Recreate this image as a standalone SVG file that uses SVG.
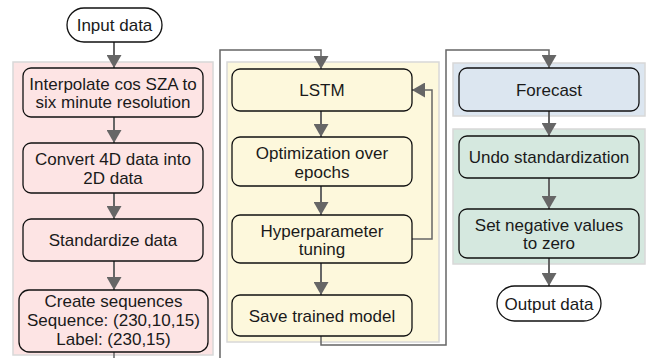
<svg xmlns="http://www.w3.org/2000/svg" width="654" height="358" viewBox="0 0 654 358">
  <defs>
    <marker id="arrow" viewBox="0 0 13 15" refX="13" refY="7.5" markerWidth="13" markerHeight="15" markerUnits="userSpaceOnUse" orient="auto">
      <path d="M0,0 L13,7.5 L0,15 Z" fill="#666"/>
    </marker>
    <style>
      text { font-family: "Liberation Sans", Arial, sans-serif; font-size: 17px; fill: #1a1a1a; text-anchor: middle; }
      .panel { stroke: #d8d8d8; stroke-width: 1.5; }
      .box { stroke: #111; stroke-width: 1.3; }
      .pink { fill: #fde4e4; }
      .yellow { fill: #fdf8dc; }
      .blue { fill: #dce6f0; }
      .green { fill: #d5e8df; }
      .term { fill: #fff; stroke: #111; stroke-width: 1.3; }
      .link { fill: none; stroke: #666; stroke-width: 2; }
      .route { fill: none; stroke: #666; stroke-width: 1.5; }
    </style>
  </defs>

  <!-- stage panels -->
  <g id="panels">
    <rect class="panel pink" x="13" y="62" width="200" height="293"/>
    <rect class="panel yellow" x="227" y="62" width="212" height="280"/>
    <rect class="panel blue" x="453" y="63" width="192" height="53"/>
    <rect class="panel green" x="453" y="129" width="192" height="135"/>
  </g>

  <!-- connectors -->
  <g id="connectors">
    <line class="link" x1="114" y1="42" x2="114" y2="68" marker-end="url(#arrow)"/>
    <line class="link" x1="114" y1="117" x2="114" y2="143" marker-end="url(#arrow)"/>
    <line class="link" x1="114" y1="193" x2="114" y2="219" marker-end="url(#arrow)"/>
    <line class="link" x1="114" y1="261" x2="114" y2="290" marker-end="url(#arrow)"/>
    <line class="route" x1="114" y1="352" x2="114" y2="360"/>
    <polyline class="route" points="220,360 220,50 321,50 321,69" marker-end="url(#arrow)"/>
    <line class="link" x1="321" y1="111" x2="321" y2="137" marker-end="url(#arrow)"/>
    <line class="link" x1="321" y1="186" x2="321" y2="215" marker-end="url(#arrow)"/>
    <line class="link" x1="321" y1="263" x2="321" y2="295" marker-end="url(#arrow)"/>
    <polyline class="route" points="412,239 432,239 432,90 412,90" marker-end="url(#arrow)"/>
    <polyline class="route" points="321,336 321,345 446,345 446,50 549,50 549,68" marker-end="url(#arrow)"/>
    <line class="link" x1="549" y1="111" x2="549" y2="136" marker-end="url(#arrow)"/>
    <line class="link" x1="549" y1="178" x2="549" y2="209" marker-end="url(#arrow)"/>
    <line class="link" x1="549" y1="258" x2="549" y2="286" marker-end="url(#arrow)"/>
  </g>

  <g id="input">
    <rect class="term" x="67" y="8" width="95" height="34" rx="17"/>
    <text x="114.5" y="31">Input data</text>
  </g>

  <g id="interpolate">
    <rect class="box pink" x="23" y="68" width="180" height="49" rx="8"/>
    <text x="113" y="90">Interpolate cos SZA to</text>
    <text x="113" y="108">six minute resolution</text>
  </g>

  <g id="convert">
    <rect class="box pink" x="23" y="143" width="180" height="50" rx="8"/>
    <text x="113" y="165">Convert 4D data into</text>
    <text x="113" y="184">2D data</text>
  </g>

  <g id="standardize">
    <rect class="box pink" x="23" y="219" width="180" height="42" rx="8"/>
    <text x="113" y="246">Standardize data</text>
  </g>

  <g id="sequences">
    <rect class="box pink" x="19" y="290" width="189" height="62" rx="10"/>
    <text x="113.5" y="307">Create sequences</text>
    <text x="113.5" y="326">Sequence: (230,10,15)</text>
    <text x="113.5" y="345">Label: (230,15)</text>
  </g>

  <g id="lstm">
    <rect class="box yellow" x="232" y="69" width="180" height="42" rx="8"/>
    <text x="322" y="96">LSTM</text>
  </g>

  <g id="optimization">
    <rect class="box yellow" x="232" y="137" width="180" height="49" rx="8"/>
    <text x="322" y="159">Optimization over</text>
    <text x="322" y="178">epochs</text>
  </g>

  <g id="hyperparameter">
    <rect class="box yellow" x="232" y="215" width="180" height="48" rx="8"/>
    <text x="322" y="237">Hyperparameter</text>
    <text x="322" y="255">tuning</text>
  </g>

  <g id="save">
    <rect class="box yellow" x="232" y="295" width="180" height="41" rx="8"/>
    <text x="322" y="322">Save trained model</text>
  </g>

  <g id="forecast">
    <rect class="box blue" x="459" y="68" width="180" height="43" rx="8"/>
    <text x="549" y="96">Forecast</text>
  </g>

  <g id="undo">
    <rect class="box green" x="459" y="136" width="180" height="42" rx="8"/>
    <text x="549" y="163">Undo standardization</text>
  </g>

  <g id="negative">
    <rect class="box green" x="459" y="209" width="180" height="49" rx="8"/>
    <text x="549" y="231">Set negative values</text>
    <text x="549" y="249">to zero</text>
  </g>

  <g id="output">
    <rect class="term" x="497" y="286" width="104" height="35" rx="17.5"/>
    <text x="549" y="310">Output data</text>
  </g>
</svg>
